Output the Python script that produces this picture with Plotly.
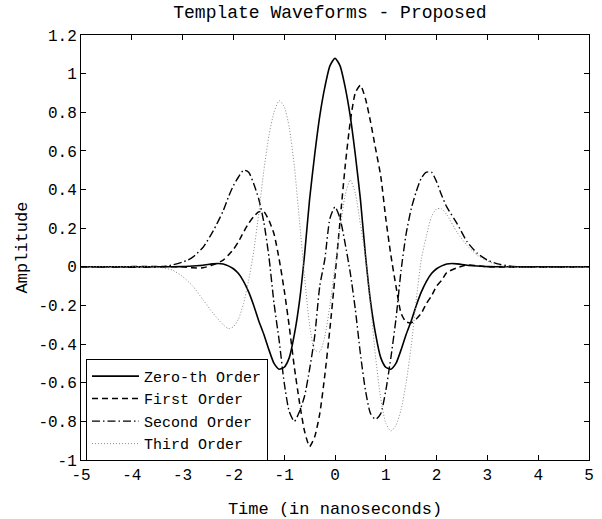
import plotly.graph_objects as go

# ---- data ----
x_zero = [-5, -3.2, -3.0, -2.8, -2.6, -2.5, -2.4, -2.3, -2.2, -2.1, -2.0, -1.9, -1.8, -1.7, -1.6, -1.5,
          -1.4, -1.3, -1.2, -1.1, -1.0, -0.9, -0.8, -0.7, -0.6, -0.5, -0.4, -0.3, -0.2, -0.1, 0.0,
          0.1, 0.2, 0.3, 0.4, 0.5, 0.6, 0.7, 0.8, 0.9, 1.0, 1.1, 1.2, 1.3, 1.4, 1.5, 1.6, 1.7, 1.8,
          1.9, 2.0, 2.1, 2.2, 2.3, 2.4, 2.5, 2.6, 2.8, 3.0, 3.2, 5]
y_zero = [0, 0, 0.001, 0.004, 0.008, 0.012, 0.015, 0.017, 0.015, 0.005, -0.01, -0.035, -0.075, -0.13, -0.20, -0.28,
          -0.35, -0.43, -0.50, -0.53, -0.52, -0.47, -0.35, -0.18, 0.06, 0.35, 0.58, 0.78, 0.93, 1.04, 1.08,
          1.04, 0.93, 0.78, 0.58, 0.35, 0.06, -0.18, -0.35, -0.47, -0.52, -0.53, -0.50, -0.43, -0.35, -0.28, -0.20, -0.13, -0.075,
          -0.035, -0.01, 0.005, 0.015, 0.017, 0.015, 0.012, 0.008, 0.004, 0.001, 0, 0]

x_first = [-5, -3.0, -2.8, -2.6, -2.4, -2.2, -2.0, -1.9, -1.8, -1.7, -1.6, -1.5, -1.4, -1.3, -1.2, -1.1,
           -1.0, -0.9, -0.8, -0.7, -0.6, -0.5, -0.4, -0.3, -0.2, -0.1, 0.0, 0.1, 0.2, 0.3, 0.4, 0.5,
           0.6, 0.7, 0.8, 0.9, 1.0, 1.1, 1.2, 1.3, 1.4, 1.5, 1.6, 1.7, 1.8, 1.9, 2.0, 2.1, 2.2, 2.4,
           2.6, 2.8, 3.0, 5]
y_first = [0, 0, -0.005, -0.005, 0.01, 0.035, 0.09, 0.13, 0.18, 0.225, 0.26, 0.285, 0.285, 0.24, 0.17, 0.04,
           -0.12, -0.31, -0.52, -0.70, -0.85, -0.93, -0.88, -0.76, -0.56, -0.32, -0.05, 0.24, 0.52, 0.75, 0.90, 0.94,
           0.87, 0.75, 0.61, 0.47, 0.25, 0.06, -0.10, -0.24, -0.285, -0.29, -0.27, -0.24, -0.19, -0.15, -0.10, -0.07, -0.03, -0.005,
           0.01, 0.005, 0, 0]

x_second = [-5, -3.4, -3.2, -3.0, -2.9, -2.8, -2.6, -2.4, -2.2, -2.1, -2.0, -1.9, -1.8, -1.7, -1.6, -1.5,
            -1.4, -1.3, -1.2, -1.1, -1.0, -0.9, -0.8, -0.7, -0.6, -0.5, -0.4, -0.3, -0.2, -0.1, 0.0,
            0.1, 0.2, 0.3, 0.4, 0.5, 0.6, 0.7, 0.8, 0.9, 1.0, 1.1, 1.2, 1.3, 1.4, 1.5, 1.6, 1.7, 1.8,
            1.9, 2.0, 2.1, 2.2, 2.4, 2.6, 2.8, 3.0, 3.2, 3.4, 3.6, 5]
y_second = [0, 0, 0.01, 0.025, 0.035, 0.05, 0.10, 0.185, 0.29, 0.36, 0.42, 0.465, 0.50, 0.49, 0.43, 0.35,
            0.23, 0.05, -0.19, -0.38, -0.60, -0.75, -0.80, -0.75, -0.67, -0.53, -0.36, -0.10, 0.04, 0.25, 0.31,
            0.25, 0.12, -0.03, -0.22, -0.45, -0.64, -0.76, -0.79, -0.76, -0.64, -0.47, -0.27, -0.02, 0.17, 0.30, 0.39, 0.46, 0.49,
            0.49, 0.44, 0.37, 0.31, 0.225, 0.13, 0.07, 0.035, 0.015, 0.005, 0, 0]

x_third = [-5, -3.6, -3.4, -3.2, -3.0, -2.8, -2.6, -2.4, -2.2, -2.1, -2.0, -1.9, -1.8, -1.7, -1.6, -1.5,
           -1.4, -1.3, -1.2, -1.1, -1.0, -0.9, -0.8, -0.7, -0.6, -0.5, -0.4, -0.3, -0.2, -0.1, 0.0,
           0.1, 0.2, 0.3, 0.4, 0.5, 0.6, 0.7, 0.8, 0.9, 1.0, 1.1, 1.2, 1.3, 1.4, 1.5, 1.6, 1.7, 1.8,
           1.9, 2.0, 2.1, 2.2, 2.4, 2.6, 2.8, 3.0, 3.2, 3.4, 5]
y_third = [0, 0, -0.005, -0.017, -0.05, -0.10, -0.17, -0.24, -0.30, -0.32, -0.31, -0.27, -0.19, -0.07, 0.08, 0.28,
           0.50, 0.68, 0.80, 0.86, 0.83, 0.72, 0.52, 0.24, -0.05, -0.30, -0.43, -0.44, -0.36, -0.20, 0.0,
           0.20, 0.37, 0.45, 0.38, 0.22, 0.05, -0.20, -0.47, -0.68, -0.81, -0.85, -0.82, -0.74, -0.60, -0.41, -0.17, 0.04, 0.16,
           0.26, 0.30, 0.30, 0.27, 0.18, 0.11, 0.06, 0.03, 0.01, 0, 0]

series_names = ["Zero-th Order", "First Order", "Second Order", "Third Order"]

x_ticks = [-5, -4, -3, -2, -1, 0, 1, 2, 3, 4, 5]
x_ticktext = ["-5", "-4", "-3", "-2", "-1", "0", "1", "2", "3", "4", "5"]
y_ticks = [-1, -0.8, -0.6, -0.4, -0.2, 0, 0.2, 0.4, 0.6, 0.8, 1, 1.2]
y_ticktext = ["-1", "-0.8", "-0.6", "-0.4", "-0.2", "0", "0.2", "0.4", "0.6", "0.8", "1", "1.2"]

FONT = "Liberation Mono, Courier New, monospace"

fig = go.Figure()
fig.add_trace(go.Scatter(x=x_zero, y=y_zero, name=series_names[0], mode="lines",
                         line=dict(color="black", width=1.6, shape="spline", smoothing=0.6)))
fig.add_trace(go.Scatter(x=x_first, y=y_first, name=series_names[1], mode="lines",
                         line=dict(color="black", width=1.5, dash="6px,4px", shape="spline", smoothing=0.6)))
fig.add_trace(go.Scatter(x=x_second, y=y_second, name=series_names[2], mode="lines",
                         line=dict(color="black", width=1.4, dash="8px,3px,1.5px,3px", shape="spline", smoothing=0.6)))
fig.add_trace(go.Scatter(x=x_third, y=y_third, name=series_names[3], mode="lines",
                         line=dict(color="#888888", width=1, dash="1px,2px", shape="spline", smoothing=0.6)))

axis_common = dict(showline=True, linecolor="black", linewidth=1, mirror="allticks",
                   ticks="inside", ticklen=5, tickcolor="black", tickwidth=1,
                   showgrid=False, zeroline=False, automargin=False,
                   tickfont=dict(family=FONT, size=16, color="black"))

fig.update_layout(
    width=602, height=519,
    margin=dict(l=81, r=13, t=34.5, b=58.5),
    paper_bgcolor="white", plot_bgcolor="white",
    font=dict(family=FONT, color="black"),
    title=dict(text="Template Waveforms - Proposed", x=0.548, xanchor="center",
               y=1 - 12 / 519, yanchor="middle", yref="container",
               font=dict(family=FONT, size=18, color="black")),
    xaxis=dict(range=[-5, 5], tickvals=x_ticks, ticktext=x_ticktext,
               title=dict(text="Time (in nanoseconds)", font=dict(family=FONT, size=17), standoff=17),
               **axis_common),
    yaxis=dict(range=[-1, 1.2], tickvals=y_ticks, ticktext=y_ticktext,
               title=dict(text="Amplitude", font=dict(family=FONT, size=17), standoff=6),
               **axis_common),
    legend=dict(x=0.0098, y=0.238, xanchor="left", yanchor="top",
                bgcolor="white", bordercolor="black", borderwidth=1,
                font=dict(family=FONT, size=15, color="black"),
                itemwidth=47, tracegroupgap=0),
    showlegend=True,
)

fig.write_html("out.html")
